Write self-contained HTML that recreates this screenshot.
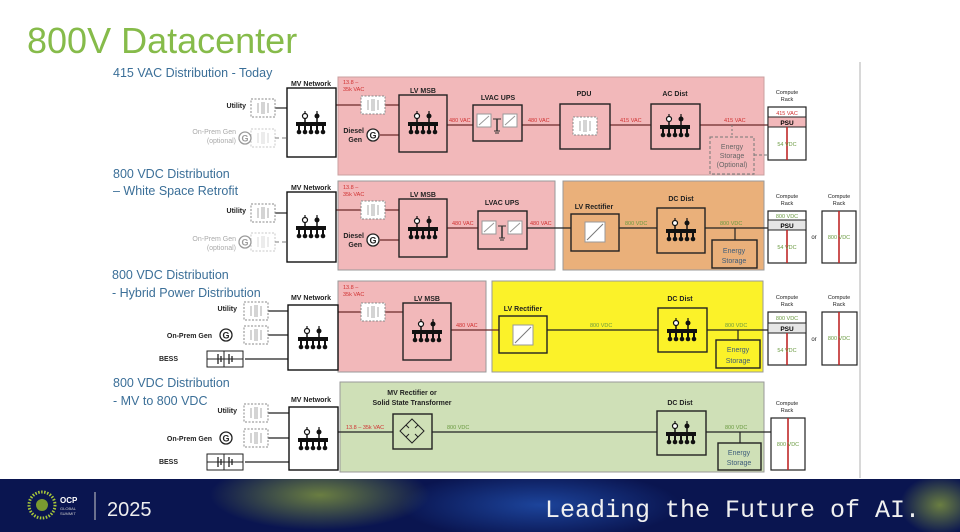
<!DOCTYPE html>
<html><head><meta charset="utf-8"><style>
html,body{margin:0;padding:0;background:#fff;}
#w{position:relative;width:960px;height:532px;overflow:hidden;background:#fff;font-family:"Liberation Sans",sans-serif;}
svg text{font-family:"Liberation Sans",sans-serif;}
</style></head><body><div id="w">
<svg width="960" height="532" viewBox="0 0 960 532" xmlns="http://www.w3.org/2000/svg">
<defs>
<g id="bus">
 <line x1="-6" y1="-9" x2="-6" y2="-3" stroke="#111" stroke-width="1.5"/>
 <line x1="6" y1="-9" x2="6" y2="-3" stroke="#111" stroke-width="1.5"/>
 <circle cx="-6" cy="-9" r="2.5" fill="#fff" stroke="#111" stroke-width="1.2"/>
 <circle cx="6" cy="-9" r="2.5" fill="#111"/>
 <line x1="-6" y1="-14" x2="-6" y2="-11" stroke="#111" stroke-width="1.2"/>
 <line x1="6" y1="-14" x2="6" y2="-11" stroke="#111" stroke-width="1.2"/>
 <rect x="-15" y="-3" width="30" height="4" fill="#111"/>
 <g fill="#111"><rect x="-13" y="1" width="2" height="7"/><rect x="-7" y="1" width="2" height="7"/><rect x="-1" y="1" width="2" height="7"/><rect x="5" y="1" width="2" height="7"/><rect x="11" y="1" width="2" height="7"/>
 <circle cx="-12" cy="7" r="2.3"/><circle cx="-6" cy="7" r="2.3"/><circle cx="0" cy="7" r="2.3"/><circle cx="6" cy="7" r="2.3"/><circle cx="12" cy="7" r="2.3"/></g>
</g>
<g id="xf">
 <rect x="-12" y="-9" width="24" height="18" fill="#fff" stroke="#888" stroke-width="1" stroke-dasharray="2,1.5"/>
 <g stroke="#aaa" stroke-width="1"><line x1="-5" y1="-5" x2="-5" y2="5"/><line x1="5" y1="-5" x2="5" y2="5"/><line x1="-1" y1="-6" x2="-1" y2="6"/><line x1="1" y1="-6" x2="1" y2="6"/></g>
</g>
<g id="ups">
 <rect x="-20" y="-9" width="14" height="13" fill="#fff" stroke="#999"/>
 <rect x="6" y="-9" width="14" height="13" fill="#fff" stroke="#999"/>
 <line x1="-18" y1="2" x2="-8" y2="-7" stroke="#999"/><line x1="8" y1="2" x2="18" y2="-7" stroke="#999"/>
 <line x1="0" y1="-4" x2="0" y2="8" stroke="#333" stroke-width="1.5"/><line x1="-4" y1="-4" x2="4" y2="-4" stroke="#333"/>
 <line x1="-3" y1="8" x2="3" y2="8" stroke="#333"/><line x1="-2" y1="10" x2="2" y2="10" stroke="#333"/>
</g>
<g id="rect">
 <rect x="-10" y="-10" width="20" height="20" fill="#fff" stroke="#999"/>
 <line x1="-8" y1="8" x2="8" y2="-8" stroke="#777"/>
</g>
<g id="gen"><circle r="6" fill="#fff" stroke="#222" stroke-width="1.3"/><text x="0" y="3.5" font-size="9" font-weight="bold" text-anchor="middle" fill="#222">G</text></g>
<g id="bess"><rect x="-18" y="-8" width="36" height="16" fill="#fff" stroke="#222"/><line x1="-18" y1="0" x2="18" y2="0" stroke="#222"/><g stroke="#222" stroke-width="1.3"><line x1="-7" y1="-5" x2="-7" y2="5"/><line x1="-4" y1="-3" x2="-4" y2="3"/><line x1="4" y1="-5" x2="4" y2="5"/><line x1="7" y1="-3" x2="7" y2="3"/></g><line x1="-1" y1="-8" x2="-1" y2="8" stroke="#222"/></g>
<clipPath id="fc"><rect x="0" y="479" width="960" height="53"/></clipPath>
<radialGradient id="g1"><stop offset="0" stop-color="#b9d436" stop-opacity="0.55"/><stop offset="1" stop-color="#b9d436" stop-opacity="0"/></radialGradient>
<radialGradient id="g2"><stop offset="0" stop-color="#2b6ad8" stop-opacity="0.55"/><stop offset="1" stop-color="#2b6ad8" stop-opacity="0"/></radialGradient>
</defs>

<text x="27" y="53" font-size="36" fill="#86bb4a">800V Datacenter</text>
<line x1="860" y1="62" x2="860" y2="478" stroke="#ccc" stroke-width="1.5"/>

<rect x="338" y="77" width="426" height="98" fill="#f2b8ba" stroke="#c9a0a0"/>
<rect x="338" y="181" width="217" height="89" fill="#f2b8ba" stroke="#999"/>
<rect x="563" y="181" width="201" height="89" fill="#eab07a" stroke="#999"/>
<rect x="338" y="281" width="148" height="91" fill="#f2b8ba" stroke="#999"/>
<rect x="492" y="281" width="271" height="91" fill="#fbf229" stroke="#999"/>
<rect x="340" y="382" width="424" height="90" fill="#cfe0b7" stroke="#999"/>

<g font-size="12.5" fill="#3b6f98">
<text x="113" y="77">415 VAC Distribution - Today</text>
<text x="113" y="178">800 VDC Distribution</text>
<text x="113" y="195">– White Space Retrofit</text>
<text x="112" y="279">800 VDC Distribution</text>
<text x="112" y="297">- Hybrid Power Distribution</text>
<text x="113" y="387">800 VDC Distribution</text>
<text x="113" y="405">- MV to 800 VDC</text>
</g>

<g font-size="7" font-weight="bold" fill="#222" text-anchor="middle">
<text x="311" y="86">MV Network</text><text x="311" y="190">MV Network</text><text x="311" y="300">MV Network</text><text x="311" y="402">MV Network</text>
<text x="423" y="93">LV MSB</text><text x="423" y="197">LV MSB</text><text x="427" y="301">LV MSB</text>
<text x="498" y="100">LVAC UPS</text><text x="502" y="205">LVAC UPS</text>
<text x="584" y="96">PDU</text><text x="675" y="96">AC Dist</text>
<text x="594" y="209">LV Rectifier</text><text x="681" y="201">DC Dist</text>
<text x="523" y="311">LV Rectifier</text><text x="680" y="301">DC Dist</text><text x="680" y="405">DC Dist</text>
<text x="412" y="395">MV Rectifier or</text><text x="412" y="405">Solid State Transformer</text>
</g>
<g font-size="5.5" fill="#222" text-anchor="middle">
<text x="787" y="94">Compute</text><text x="787" y="101">Rack</text>
<text x="787" y="198">Compute</text><text x="787" y="205">Rack</text>
<text x="839" y="198">Compute</text><text x="839" y="205">Rack</text>
<text x="787" y="299">Compute</text><text x="787" y="306">Rack</text>
<text x="839" y="299">Compute</text><text x="839" y="306">Rack</text>
<text x="787" y="405">Compute</text><text x="787" y="412">Rack</text>
</g>

<g font-size="7" fill="#222" text-anchor="end">
<text x="246" y="108" font-weight="bold">Utility</text>
<text x="236" y="134" fill="#aaa">On-Prem Gen</text><text x="236" y="143" fill="#aaa">(optional)</text>
<text x="246" y="213" font-weight="bold">Utility</text>
<text x="236" y="241" fill="#aaa">On-Prem Gen</text><text x="236" y="250" fill="#aaa">(optional)</text>
<text x="237" y="311" font-weight="bold">Utility</text>
<text x="212" y="338" font-weight="bold">On-Prem Gen</text>
<text x="178" y="361" font-weight="bold">BESS</text>
<text x="237" y="413" font-weight="bold">Utility</text>
<text x="212" y="441" font-weight="bold">On-Prem Gen</text>
<text x="178" y="464" font-weight="bold">BESS</text>
</g>

<g stroke="#222" stroke-width="1.2" fill="none">
<line x1="275" y1="108" x2="287" y2="108"/>
<line x1="275" y1="138" x2="287" y2="138" stroke="#999" stroke-dasharray="4,3"/>
<line x1="336" y1="105" x2="399" y2="105" stroke="#6b2a2a"/>
<line x1="380" y1="135" x2="399" y2="135" stroke="#6b2a2a"/>
<line x1="447" y1="125" x2="473" y2="125" stroke="#6b2a2a"/>
<line x1="522" y1="125" x2="560" y2="125" stroke="#6b2a2a"/>
<line x1="610" y1="125" x2="651" y2="125" stroke="#6b2a2a"/>
<line x1="700" y1="125" x2="768" y2="125" stroke="#6b2a2a"/>
<line x1="275" y1="213" x2="287" y2="213"/>
<line x1="275" y1="242" x2="287" y2="242" stroke="#999" stroke-dasharray="4,3"/>
<line x1="336" y1="210" x2="399" y2="210" stroke="#6b2a2a"/>
<line x1="380" y1="240" x2="399" y2="240" stroke="#6b2a2a"/>
<line x1="447" y1="228" x2="478" y2="228" stroke="#6b2a2a"/>
<line x1="527" y1="228" x2="571" y2="228"/>
<line x1="619" y1="228" x2="657" y2="228"/>
<line x1="705" y1="228" x2="768" y2="228"/>
<line x1="735" y1="228" x2="735" y2="240"/>
<line x1="268" y1="311" x2="288" y2="311"/>
<line x1="268" y1="335" x2="288" y2="335"/>
<line x1="245" y1="359" x2="288" y2="359"/>
<line x1="338" y1="312" x2="403" y2="312" stroke="#6b2a2a"/>
<line x1="451" y1="330" x2="499" y2="330" stroke="#6b2a2a"/>
<line x1="547" y1="330" x2="658" y2="330"/>
<line x1="707" y1="330" x2="768" y2="330"/>
<line x1="738" y1="330" x2="738" y2="340"/>
<line x1="268" y1="413" x2="289" y2="413"/>
<line x1="268" y1="438" x2="289" y2="438"/>
<line x1="245" y1="462" x2="289" y2="462"/>
<line x1="338" y1="432" x2="393" y2="432"/>
<line x1="432" y1="432" x2="657" y2="432"/>
<line x1="706" y1="432" x2="771" y2="432"/>
<line x1="740" y1="432" x2="740" y2="443"/>
</g>

<use href="#xf" x="263" y="108"/>
<g opacity="0.45"><use href="#xf" x="263" y="138"/><use href="#gen" x="245" y="138"/></g>
<use href="#xf" x="263" y="213"/>
<g opacity="0.45"><use href="#xf" x="263" y="242"/><use href="#gen" x="245" y="242"/></g>
<use href="#xf" x="256" y="311"/><use href="#xf" x="256" y="335"/><use href="#gen" x="226" y="335"/><use href="#bess" x="225" y="359"/>
<use href="#xf" x="256" y="413"/><use href="#xf" x="256" y="438"/><use href="#gen" x="226" y="438"/><use href="#bess" x="225" y="462"/>
<use href="#xf" x="373" y="105"/><use href="#xf" x="373" y="210"/><use href="#xf" x="373" y="312"/>
<use href="#gen" x="373" y="135"/><use href="#gen" x="373" y="240"/>
<g font-size="7" font-weight="bold" fill="#222" text-anchor="end">
<text x="364" y="133">Diesel</text><text x="362" y="142">Gen</text>
<text x="364" y="238">Diesel</text><text x="362" y="247">Gen</text>
</g>

<g fill="#fff" stroke="#111" stroke-width="1.4">
<rect x="287" y="88" width="49" height="69"/><rect x="287" y="192" width="49" height="70"/>
<rect x="288" y="305" width="50" height="65"/><rect x="289" y="407" width="49" height="63"/>
</g>
<g fill="none" stroke="#222" stroke-width="1.4">
<rect x="399" y="95" width="48" height="57"/><rect x="473" y="105" width="49" height="36"/>
<rect x="560" y="104" width="50" height="45"/><rect x="651" y="104" width="49" height="45"/>
<rect x="399" y="199" width="48" height="58"/><rect x="478" y="211" width="49" height="38"/>
<rect x="571" y="214" width="48" height="37"/><rect x="657" y="208" width="48" height="45"/>
<rect x="712" y="240" width="45" height="28"/>
<rect x="403" y="303" width="48" height="57"/><rect x="499" y="316" width="48" height="37"/>
<rect x="658" y="308" width="49" height="44"/><rect x="716" y="340" width="44" height="28"/>
<rect x="393" y="414" width="39" height="35"/><rect x="657" y="411" width="49" height="44"/>
<rect x="718" y="443" width="43" height="27"/>
</g>
<rect x="710" y="137" width="44" height="37" fill="none" stroke="#777" stroke-dasharray="3,2"/>
<line x1="732" y1="125" x2="732" y2="137" stroke="#777" stroke-dasharray="2,2"/>
<line x1="754" y1="155" x2="772" y2="155" stroke="#777" stroke-dasharray="3,2"/>
<g font-size="7" fill="#666" text-anchor="middle">
<text x="732" y="149">Energy</text><text x="732" y="158">Storage</text><text x="732" y="167">(Optional)</text>
<text x="734" y="253" fill="#3d5c7a">Energy</text><text x="734" y="263" fill="#3d5c7a">Storage</text>
<text x="738" y="352" fill="#3d5c7a">Energy</text><text x="738" y="363" fill="#3d5c7a">Storage</text>
<text x="739" y="455" fill="#3d5c7a">Energy</text><text x="739" y="465" fill="#3d5c7a">Storage</text>
</g>

<use href="#bus" x="311" y="125"/><use href="#bus" x="311" y="229"/><use href="#bus" x="313" y="340"/><use href="#bus" x="313" y="441"/>
<use href="#bus" x="423" y="125"/><use href="#bus" x="423" y="230"/><use href="#bus" x="427" y="333"/>
<use href="#bus" x="675" y="128"/><use href="#bus" x="681" y="232"/><use href="#bus" x="682" y="332"/><use href="#bus" x="681" y="435"/>
<use href="#ups" x="497" y="123"/><use href="#ups" x="502" y="230"/>
<use href="#xf" x="585" y="126"/>
<use href="#rect" x="595" y="232"/><use href="#rect" x="523" y="335"/>
<g transform="translate(412,431)" fill="none" stroke="#222"><polygon points="0,-12 12,0 0,12 -12,0"/><path d="M-6,-6 l3,3 M6,-6 l-3,3 M-6,6 l3,-3 M6,6 l-3,-3"/></g>

<g font-size="5.5" fill="#d03030">
<text x="343" y="84">13.8 –</text><text x="343" y="91">35k VAC</text>
<text x="343" y="189">13.8 –</text><text x="343" y="196">35k VAC</text>
<text x="343" y="289">13.8 –</text><text x="343" y="296">35k VAC</text>
<text x="449" y="122">480 VAC</text><text x="528" y="122">480 VAC</text><text x="620" y="122">415 VAC</text><text x="724" y="122">415 VAC</text>
<text x="452" y="225">480 VAC</text><text x="530" y="225">480 VAC</text>
<text x="456" y="327">480 VAC</text>
<text x="346" y="429">13.8 – 35k VAC</text>
</g>
<g font-size="5.5" fill="#6a9a40">
<text x="625" y="225">800 VDC</text><text x="720" y="225">800 VDC</text>
<text x="590" y="327">800 VDC</text><text x="725" y="327">800 VDC</text>
<text x="447" y="429">800 VDC</text><text x="725" y="429">800 VDC</text>
</g>

<g fill="#fff" stroke="#222" stroke-width="1.2">
<rect x="768" y="107" width="38" height="53"/><rect x="768" y="211" width="38" height="52"/><rect x="822" y="211" width="34" height="52"/>
<rect x="768" y="312" width="38" height="53"/><rect x="822" y="312" width="35" height="53"/><rect x="771" y="418" width="34" height="52"/>
</g>
<rect x="768" y="117" width="38" height="10" fill="#f2b8ba" stroke="#222"/>
<rect x="768" y="220" width="38" height="10" fill="#e6e6e6" stroke="#222"/>
<rect x="768" y="323" width="38" height="10" fill="#e6e6e6" stroke="#222"/>
<g stroke="#c02828" stroke-width="1.6">
<line x1="787" y1="127" x2="787" y2="160"/><line x1="787" y1="230" x2="787" y2="263"/><line x1="839" y1="211" x2="839" y2="263"/>
<line x1="787" y1="333" x2="787" y2="365"/><line x1="839" y1="312" x2="839" y2="365"/><line x1="788" y1="418" x2="788" y2="470"/>
</g>
<g font-size="5.5" text-anchor="middle">
<text x="787" y="115" fill="#d03030">415 VAC</text><text x="787" y="125" font-weight="bold" font-size="6.5">PSU</text>
<text x="787" y="218" fill="#6a9a40">800 VDC</text><text x="787" y="228" font-weight="bold" font-size="6.5">PSU</text>
<text x="787" y="320" fill="#6a9a40">800 VDC</text><text x="787" y="331" font-weight="bold" font-size="6.5">PSU</text>
<text x="787" y="146" fill="#6a9a40">54  VDC</text><text x="787" y="249" fill="#6a9a40">54  VDC</text><text x="787" y="352" fill="#6a9a40">54  VDC</text>
<text x="839" y="239" fill="#6a9a40">800  VDC</text><text x="839" y="340" fill="#6a9a40">800  VDC</text><text x="788" y="446" fill="#6a9a40">800  VDC</text>
<text x="814" y="239" fill="#222" font-size="6">or</text><text x="814" y="341" fill="#222" font-size="6">or</text>
</g>

<rect x="0" y="479" width="960" height="53" fill="#0a1550"/>
<g clip-path="url(#fc)">
<ellipse cx="320" cy="495" rx="110" ry="35" fill="url(#g1)"/>
<ellipse cx="540" cy="505" rx="140" ry="35" fill="url(#g2)"/>
<ellipse cx="940" cy="505" rx="40" ry="30" fill="url(#g1)"/>
</g>
<circle cx="42" cy="505" r="13" fill="none" stroke="#a8c83a" stroke-width="3" stroke-dasharray="1.5,1.5"/>
<circle cx="42" cy="505" r="6" fill="#7a9a30"/>
<text x="60" y="503" font-size="8" font-weight="bold" fill="#fff">OCP</text>
<text x="60" y="510" font-size="4" fill="#ccc">GLOBAL</text><text x="60" y="515" font-size="4" fill="#ccc">SUMMIT</text>
<line x1="95" y1="492" x2="95" y2="520" stroke="#ccc"/>
<text x="107" y="516" font-size="20" fill="#eee">2025</text>
<text x="545" y="517" font-size="25" fill="#f0f0f0" style="font-family:'Liberation Mono',monospace">Leading the Future of AI.</text>
</svg>
</div></body></html>
